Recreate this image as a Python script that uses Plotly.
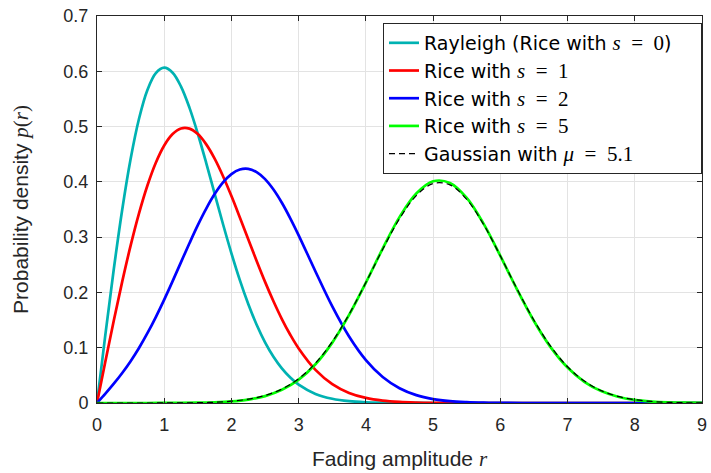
import plotly.graph_objects as go

# fine grid near the origin (where the curves bend sharply), coarser after r = 3
r = [0, 0.125, 0.25, 0.375, 0.5, 0.625, 0.75, 0.875, 1.0, 1.125, 1.25, 1.375, 1.5, 1.625,
     1.75, 1.875, 2.0, 2.125, 2.25, 2.375, 2.5, 2.625, 2.75, 2.875, 3.0, 3.25, 3.5, 3.75,
     4.0, 4.25, 4.5, 4.75, 5.0, 5.25, 5.5, 5.75, 6.0, 6.5, 7.0, 7.5, 8.0, 8.5, 9.0]

rayleigh = [0, 0.1240, 0.2423, 0.3495, 0.4412, 0.5141, 0.5661, 0.5967, 0.6065, 0.5975, 0.5723,
            0.5343, 0.4870, 0.4340, 0.3785, 0.3233, 0.2707, 0.2222, 0.1790, 0.1415, 0.1098,
            0.0837, 0.0627, 0.0461, 0.0333, 0.0165, 0.0077, 0.0033, 0.0013, 0.0005, 0.0002,
            0.0001, 0, 0, 0, 0, 0, 0, 0, 0, 0, 0, 0]

rice1 = [0, 0.0755, 0.1493, 0.2195, 0.2846, 0.3430, 0.3934, 0.4346, 0.4658, 0.4864, 0.4966,
         0.4963, 0.4864, 0.4678, 0.4420, 0.4102, 0.3743, 0.3357, 0.2961, 0.2569, 0.2191,
         0.1840, 0.1519, 0.1234, 0.0987, 0.0600, 0.0343, 0.0183, 0.0092, 0.0043, 0.0019,
         0.0008, 0.0003, 0.0001, 0, 0, 0, 0, 0, 0, 0, 0, 0]

rice2 = [0, 0.0170, 0.0349, 0.0542, 0.0756, 0.0995, 0.1262, 0.1555, 0.1871, 0.2205, 0.2548,
         0.2889, 0.3217, 0.3517, 0.3779, 0.3990, 0.4140, 0.4223, 0.4235, 0.4176, 0.4049,
         0.3861, 0.3622, 0.3341, 0.3033, 0.2379, 0.1747, 0.1203, 0.0776, 0.0470, 0.0267,
         0.0142, 0.0071, 0.0033, 0.0015, 0.0006, 0.0002, 0, 0, 0, 0, 0, 0]

r_wide = [0, 0.25, 0.5, 0.75, 1.0, 1.25, 1.5, 1.75, 2.0, 2.25, 2.5, 2.75, 3.0, 3.25, 3.5, 3.75,
          4.0, 4.25, 4.5, 4.75, 5.0, 5.25, 5.5, 5.75, 6.0, 6.25, 6.5, 6.75, 7.0, 7.25, 7.5, 7.75,
          8.0, 8.25, 8.5, 8.75, 9.0]

rice5 = [0, 0, 0, 0, 0.0001, 0.0002, 0.0005, 0.0012, 0.0028, 0.0062, 0.0125, 0.0238, 0.0422,
         0.0701, 0.1092, 0.1593, 0.2178, 0.2793, 0.3362, 0.3789, 0.4010, 0.3981, 0.3710, 0.3244,
         0.2662, 0.2050, 0.1483, 0.1006, 0.0641, 0.0384, 0.0215, 0.0114, 0.0056, 0.0026, 0.0011,
         0.0005, 0.0002]

gauss = [0, 0, 0, 0, 0.0001, 0.0002, 0.0006, 0.0014, 0.0033, 0.0069, 0.0136, 0.0252, 0.0440,
         0.0721, 0.1109, 0.1604, 0.2179, 0.2780, 0.3332, 0.3752, 0.3970, 0.3945, 0.3683, 0.3230,
         0.2661, 0.2059, 0.1497, 0.1023, 0.0656, 0.0396, 0.0224, 0.0119, 0.0060, 0.0028, 0.0012,
         0.0005, 0.0002]

x_ticks = [0, 1, 2, 3, 4, 5, 6, 7, 8, 9]
y_ticks = [0, 0.1, 0.2, 0.3, 0.4, 0.5, 0.6, 0.7]
y_labels = ["0", "0.1", "0.2", "0.3", "0.4", "0.5", "0.6", "0.7"]

M = "font-family:'Liberation Serif';font-size:21px"
EQ = "&nbsp;&nbsp;=&nbsp;&nbsp;"
PAD = "&nbsp;" * 4
names = [
    f"Rayleigh (Rice with <span style=\"{M}\"><i>s</i>{EQ}0</span>){PAD}",
    f"Rice with <span style=\"{M}\"><i>s</i>{EQ}1</span>",
    f"Rice with <span style=\"{M}\"><i>s</i>{EQ}2</span>",
    f"Rice with <span style=\"{M}\"><i>s</i>{EQ}5</span>",
    f"Gaussian with <span style=\"{M}\"><i>μ</i>{EQ}5.1</span>",
]

fig = go.Figure()
series = [(r, rayleigh, "rgb(0,178,178)"), (r, rice1, "#FF0000"), (r, rice2, "#0000FF"),
          (r_wide, rice5, "#00FF00")]
for (xs, vals, col), nm in zip(series, names[:4]):
    fig.add_trace(go.Scatter(x=xs, y=vals, mode="lines", name=nm,
                             line=dict(color=col, width=2.7, shape="spline", smoothing=1.0)))
fig.add_trace(go.Scatter(x=r_wide, y=gauss, mode="lines", name=names[4],
                         line=dict(color="black", width=1.2, dash="6px,4px", shape="spline",
                                   smoothing=1.0)))

axis_common = dict(showgrid=True, gridcolor="#E3E3E3", gridwidth=1, zeroline=False,
                   showline=True, linecolor="#262626", linewidth=1, mirror="ticks",
                   ticks="inside", ticklen=5, tickcolor="#262626",
                   tickfont=dict(family="Liberation Sans, Arial", size=18, color="#262626"))

fig.update_layout(
    width=711, height=473,
    margin=dict(l=97, r=4, t=16, b=70),
    paper_bgcolor="white", plot_bgcolor="white",
    font=dict(family="Liberation Sans, Arial", color="#262626"),
    xaxis=dict(range=[0, 9], tickvals=x_ticks, ticktext=[str(t) for t in x_ticks],
               ticklabeloverflow="allow", ticklabelstandoff=5,
               title=dict(text=f"Fading amplitude <span style=\"font-family:'Liberation Serif'\"><i>r</i></span>",
                          font=dict(size=21, color="#262626"), standoff=17),
               **axis_common),
    yaxis=dict(range=[0, 0.7], tickvals=y_ticks, ticktext=y_labels, ticklabelstandoff=4,
               title=dict(text=f"Probability density <span style=\"font-family:'Liberation Serif'\"><i>p</i>(<i>r</i>)</span>",
                          font=dict(size=21, color="#262626"), standoff=29),
               **axis_common),
    legend=dict(x=1.0, y=0.982, xanchor="right", yanchor="top",
                bgcolor="white", bordercolor="#262626", borderwidth=1,
                font=dict(family="DejaVu Sans", size=19, color="#000000"),
                tracegroupgap=0, itemwidth=30),
    showlegend=True,
)

fig.write_html("out.html")
